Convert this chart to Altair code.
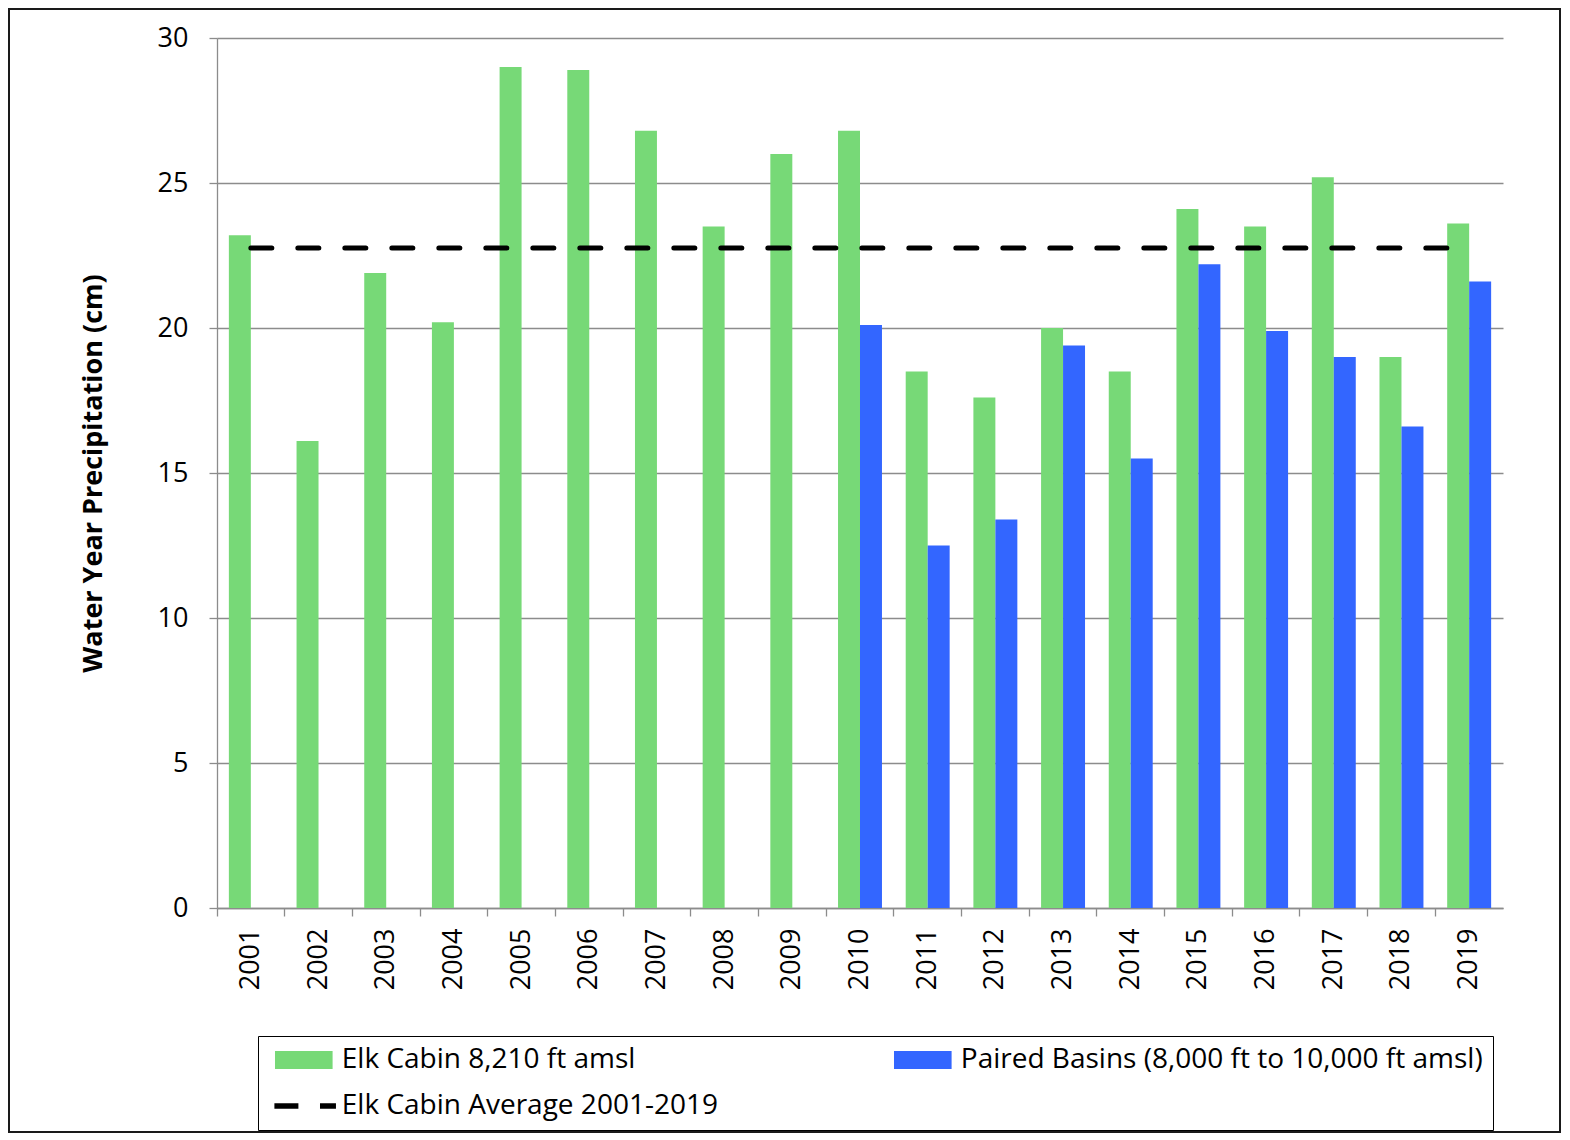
import altair as alt
import pandas as pd

# ---------------- data ----------------
years = [str(y) for y in range(2001, 2020)]
elk_cabin = [23.2, 16.1, 21.9, 20.2, 29.0, 28.9, 26.8, 23.5, 26.0, 26.8,
             18.5, 17.6, 20.0, 18.5, 24.1, 23.5, 25.2, 19.0, 23.6]
paired_years = [str(y) for y in range(2010, 2020)]
paired_basins = [20.1, 12.5, 13.4, 19.4, 15.5, 22.2, 19.9, 19.0, 16.6, 21.6]
elk_average = 22.76
y_ticks = [0, 5, 10, 15, 20, 25, 30]

SER_ELK = "Elk Cabin 8,210 ft amsl"
SER_PB = "Paired Basins (8,000 ft to 10,000 ft amsl)"
SER_AVG = "Elk Cabin Average 2001-2019"

# ---------------- style ----------------
GREEN = "#77D977"
BLUE = "#3366FF"
BLACK = "#000000"
GRID = "#8C8C8C"
FONT = "Open Sans"

bars_df = pd.DataFrame({
    "year": years + paired_years,
    "series": [SER_ELK] * len(years) + [SER_PB] * len(paired_years),
    "value": elk_cabin + paired_basins,
})
avg_df = pd.DataFrame({"year": years, "series": [SER_AVG] * len(years),
                       "value": [elk_average] * len(years)})

x_scale = alt.Scale(domain=years, paddingInner=0, paddingOuter=0)
y_scale = alt.Scale(domain=[0, 30], nice=False)

y_axis = alt.Axis(
    values=y_ticks, title="Water Year Precipitation (cm)",
    titleFont=FONT, titleFontSize=27, titleFontWeight="bold", titleColor=BLACK,
    titlePadding=50,
    labelFont=FONT, labelFontSize=27, labelColor=BLACK, labelPadding=21,
    tickSize=8, tickColor=GRID, tickWidth=1.3,
    domainColor=GRID, domainWidth=1.3,
    grid=True, gridColor=GRID, gridWidth=1.3,
)

bars = alt.Chart(bars_df).mark_bar().encode(
    x=alt.X("year:N", scale=x_scale, sort=years,
            axis=alt.Axis(title=None, labelAngle=-90, labelFont=FONT,
                          labelFontSize=27, labelColor=BLACK, labelPadding=20,
                          ticks=False, domainColor=GRID, domainWidth=1.3,
                          grid=False, orient="bottom")),
    xOffset=alt.XOffset("series:N",
                        scale=alt.Scale(domain=[SER_ELK, SER_PB],
                                        paddingInner=0, paddingOuter=0.54)),
    y=alt.Y("value:Q", scale=y_scale, axis=y_axis),
    fill=alt.Fill("series:N",
                  scale=alt.Scale(domain=[SER_ELK, SER_PB], range=[GREEN, BLUE]),
                  legend=None),
)

is_avg = f"datum.value == '{SER_AVG}'"
is_elk = f"datum.value == '{SER_ELK}'"
# legend swatch shapes (unit = sqrt(symbolSize)/2 = 12 px)
RECT_PATH = "M-2.4,-0.75H2.4V0.75H-2.4Z"
DASH_PATH = "M-2.45,-0.22H-0.45V0.22H-2.45Z M1.35,-0.22H2.68V0.22H1.35Z"

legend = alt.Legend(
    title=None, orient="none", legendX=41, legendY=998,
    direction="horizontal", columns=2, columnPadding=169, rowPadding=18,
    padding=10, strokeColor=BLACK,
    labelFont=FONT, labelFontSize=28, labelColor=BLACK, labelLimit=1000,
    labelOffset=24, symbolOffset=21.8,
    symbolSize=576, symbolStrokeWidth=0,
    values=[SER_ELK, SER_PB, SER_AVG],
    symbolType={"expr": f"{is_avg} ? '{DASH_PATH}' : '{RECT_PATH}'"},
    symbolFillColor={"expr": f"{is_avg} ? '{BLACK}' : ({is_elk} ? '{GREEN}' : '{BLUE}')"},
)

line = alt.Chart(avg_df).mark_line(strokeCap="round").encode(
    x=alt.X("year:N", scale=x_scale, sort=years,
            axis=alt.Axis(title=None, labels=False, ticks=True, tickSize=8,
                          tickColor=GRID, tickWidth=1.3, bandPosition=0,
                          domain=False, grid=False, orient="bottom")),
    y=alt.Y("value:Q", scale=y_scale, axis=y_axis),
    stroke=alt.Stroke("series:N",
                      scale=alt.Scale(domain=[SER_ELK, SER_PB, SER_AVG],
                                      range=[GREEN, BLUE, BLACK]),
                      legend=legend),
    strokeWidth=alt.value(5),
    strokeDash=alt.value([21, 26]),
)

frame = alt.Chart(pd.DataFrame({"f": [0]})).mark_rect(
    fill="transparent", stroke="#1a1a1a", strokeWidth=2
).encode(
    x=alt.value(-208), x2=alt.value(1343),
    y=alt.value(-29), y2=alt.value(1094),
)

chart = alt.layer(bars, line, frame).resolve_axis(x="independent").properties(
    width=1286, height=870, padding=0, background="white"
).configure_view(stroke=None)

chart.save("out.html", embed_options={"renderer": "svg", "actions": False})
